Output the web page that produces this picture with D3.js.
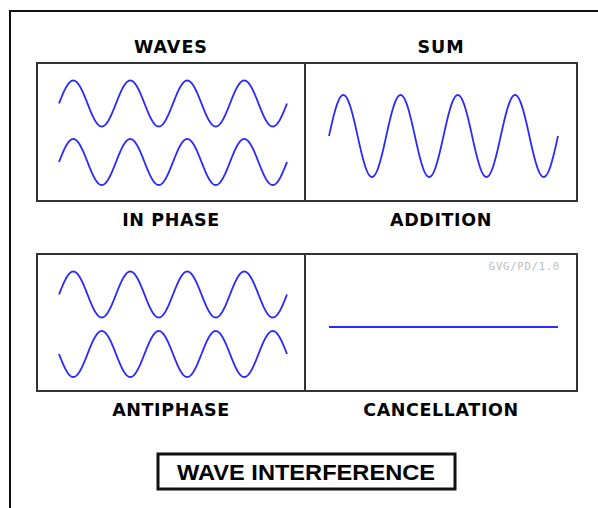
<!DOCTYPE html>
<html><head><meta charset="utf-8">
<script src="https://cdn.jsdelivr.net/npm/d3@7"></script>
<style>body{margin:0;background:#fff}svg{display:block}</style>
</head><body>
<script>
// ---- data ----
const panelTitles = ["WAVES", "SUM", "", ""];
const panelLabels = ["IN PHASE", "ADDITION", "ANTIPHASE", "CANCELLATION"];
const chartTitle = "WAVE INTERFERENCE";
const watermark = "GVG/PD/1.0";
// wave parameters: panel index, amplitude, phase (cycles), number of cycles, row slot (0 upper,1 middle,2 lower)
const wavePanel = [0, 0, 1, 2, 2, 3];
const waveAmp   = [1, 1, 2, 1, -1, 0];
const wavePhase = [0, 0, 0, 0, 0, 0];
const waveCycles= [4, 4, 4, 4, 4, 4];
const waveSlot  = [0, 2, 1, 0, 2, 1];

const W = 598, H = 508;
const svg = d3.select("body").append("svg").attr("width", W).attr("height", H);

// outer frame
svg.append("path").attr("d", `M10,${H} L10,11 L${W},11`).attr("fill","none").attr("stroke","#111").attr("stroke-width",2);

const colX = [37, 305, 577];
const rowY = [[63, 201], [254, 391]];
const panels = [0,1,2,3].map(i => {
  const c = i % 2, r = Math.floor(i / 2);
  return {x0: colX[c], x1: colX[c+1], y0: rowY[r][0], y1: rowY[r][1], c, r};
});

const font = "'DejaVu Sans', Verdana, sans-serif";

panels.forEach((p, i) => {
  svg.append("rect").attr("x", p.x0).attr("y", p.y0).attr("width", p.x1 - p.x0).attr("height", p.y1 - p.y0)
    .attr("fill", "none").attr("stroke", "#333").attr("stroke-width", 2);
  const cx = (p.x0 + p.x1) / 2;
  if (panelTitles[i]) svg.append("text").attr("x", cx).attr("y", p.y0 - 10).attr("text-anchor","middle")
    .attr("font-family", font).attr("font-weight","bold").attr("font-size", 17.5).attr("letter-spacing", 1).text(panelTitles[i]);
  svg.append("text").attr("x", cx).attr("y", p.y1 + 25).attr("text-anchor","middle")
    .attr("font-family", font).attr("font-weight","bold").attr("font-size", 17.5).attr("letter-spacing", 0.6).text(panelLabels[i]);
});

// watermark
svg.append("text").attr("x", 560).attr("y", 270).attr("text-anchor","end")
  .attr("font-family", "'DejaVu Sans Mono', monospace").attr("font-size", 10.5).attr("fill","#bbb").attr("letter-spacing",0.8).text(watermark);

// waves
const slotCenters = [40.5, 73, 99];
waveAmp.forEach((amp, k) => {
  const p = panels[wavePanel[k]];
  const x = d3.scaleLinear().domain([0, waveCycles[k]]).range(p.c === 0 ? [p.x0 + 22, p.x0 + 250] : [p.x0 + 24, p.x0 + 253]);
  const yc = p.y0 + slotCenters[waveSlot[k]] + (p.r === 1 && waveSlot[k] === 2 ? 1 : 0);
  const unit = Math.abs(amp) === 2 ? 20.5 : 23;
  const y = d3.scaleLinear().domain([-1, 1]).range([yc + unit, yc - unit]);
  const ts = d3.range(0, waveCycles[k] + 1e-9, waveCycles[k] / 400);
  const line = d3.line().x(t => x(t)).y(t => y(amp * Math.sin(2 * Math.PI * (t + wavePhase[k]))));
  svg.append("path").datum(ts).attr("d", line).attr("fill","none").attr("stroke","#2a2aff").attr("stroke-width",1.8);
});

// title box
svg.append("rect").attr("x", 158).attr("y", 454).attr("width", 297).attr("height", 35)
  .attr("fill","none").attr("stroke","#111").attr("stroke-width",3);
svg.append("text").attr("x", 306).attr("y", 479.5).attr("text-anchor","middle")
  .attr("font-family","'Liberation Sans', Arial, sans-serif").attr("font-weight","bold").attr("font-size",22)
  .attr("textLength", 258).attr("lengthAdjust","spacingAndGlyphs").text(chartTitle);
</script>
</body></html>
